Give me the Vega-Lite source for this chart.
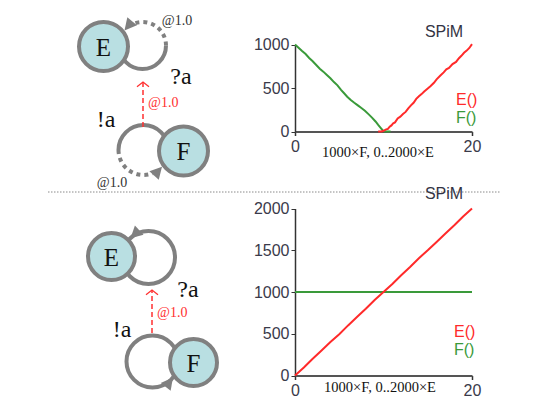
{
  "$schema": "https://vega.github.io/schema/vega-lite/v6.json",
  "padding": 0,
  "background": "white",
  "columns": 2,
  "spacing": {"column": 55, "row": 0},
  "bounds": "flush",
  "align": "each",
  "resolve": {"scale": {"color": "independent"}},
  "datasets": {
    "nodes": [
      {"panel": "top", "name": "E", "x": 103.5, "y": 46.5},
      {"panel": "top", "name": "F", "x": 183.5, "y": 151},
      {"panel": "bot", "name": "E", "x": 111.5, "y": 256.5},
      {"panel": "bot", "name": "F", "x": 193.5, "y": 362.5}
    ],
    "loops": [
      {"id": "topE", "x": 142.5, "y": 45.5},
      {"id": "topF", "x": 143.5, "y": 150},
      {"id": "botE", "x": 148.5, "y": 257.5},
      {"id": "botF", "x": 152.5, "y": 361.5}
    ],
    "arrows": [
      {"panel": "top", "x": 124.5, "y": 30.4, "dir": 130},
      {"panel": "top", "x": 162, "y": 166.7, "dir": 312},
      {"panel": "bot", "x": 130.5, "y": 238.3, "dir": 137},
      {"panel": "bot", "x": 173, "y": 377.5, "dir": 308}
    ],
    "signals": [
      {"panel": "top", "x": 143, "y": 127, "y2": 82},
      {"panel": "bot", "x": 152, "y": 333, "y2": 290}
    ],
    "labels": [
      {"panel": "top", "kind": "small", "text": "@1.0", "x": 177, "y": 21},
      {"panel": "top", "kind": "small", "text": "@1.0", "x": 112, "y": 183},
      {"panel": "top", "kind": "big", "text": "?a", "x": 181, "y": 77},
      {"panel": "top", "kind": "big", "text": "!a", "x": 106, "y": 120},
      {"panel": "top", "kind": "red", "text": "@1.0", "x": 148, "y": 103},
      {"panel": "bot", "kind": "big", "text": "?a", "x": 188, "y": 290},
      {"panel": "bot", "kind": "big", "text": "!a", "x": 122, "y": 330},
      {"panel": "bot", "kind": "red", "text": "@1.0", "x": 157, "y": 313}
    ],
    "sep": [{"x": 48, "x2": 500, "y": 192}],
    "heads": [
      {"chart": "top", "head": "SPiM", "t": 19, "v": 1052},
      {"chart": "bottom", "head": "SPiM", "t": 19, "v": 2078}
    ],
    "top": [
      {"s": "F()", "t": 0, "v": 1000}, {"s": "F()", "t": 0.4, "v": 962}, {"s": "F()", "t": 0.8, "v": 925},
      {"s": "F()", "t": 1.2, "v": 890}, {"s": "F()", "t": 1.6, "v": 845}, {"s": "F()", "t": 2.0, "v": 808},
      {"s": "F()", "t": 2.4, "v": 765}, {"s": "F()", "t": 2.8, "v": 722}, {"s": "F()", "t": 3.2, "v": 688},
      {"s": "F()", "t": 3.6, "v": 650}, {"s": "F()", "t": 4.0, "v": 612}, {"s": "F()", "t": 4.4, "v": 568},
      {"s": "F()", "t": 4.8, "v": 530}, {"s": "F()", "t": 5.2, "v": 478}, {"s": "F()", "t": 5.5, "v": 445},
      {"s": "F()", "t": 5.9, "v": 400}, {"s": "F()", "t": 6.3, "v": 362}, {"s": "F()", "t": 6.7, "v": 330},
      {"s": "F()", "t": 7.1, "v": 300}, {"s": "F()", "t": 7.5, "v": 270}, {"s": "F()", "t": 7.9, "v": 238},
      {"s": "F()", "t": 8.3, "v": 200}, {"s": "F()", "t": 8.7, "v": 160}, {"s": "F()", "t": 9.1, "v": 115},
      {"s": "F()", "t": 9.4, "v": 75}, {"s": "F()", "t": 9.7, "v": 40}, {"s": "F()", "t": 9.9, "v": 15},
      {"s": "F()", "t": 10.1, "v": 0}, {"s": "F()", "t": 10.8, "v": 0},
      {"s": "E()", "t": 9.4, "v": 0}, {"s": "E()", "t": 9.8, "v": 0}, {"s": "E()", "t": 10.0, "v": 8},
      {"s": "E()", "t": 10.3, "v": 25}, {"s": "E()", "t": 10.5, "v": 30}, {"s": "E()", "t": 10.7, "v": 55},
      {"s": "E()", "t": 10.9, "v": 70}, {"s": "E()", "t": 11.1, "v": 95}, {"s": "E()", "t": 11.3, "v": 105},
      {"s": "E()", "t": 11.6, "v": 150}, {"s": "E()", "t": 11.9, "v": 170}, {"s": "E()", "t": 12.2, "v": 200},
      {"s": "E()", "t": 12.5, "v": 225}, {"s": "E()", "t": 12.8, "v": 265}, {"s": "E()", "t": 13.1, "v": 300},
      {"s": "E()", "t": 13.4, "v": 330}, {"s": "E()", "t": 13.7, "v": 375}, {"s": "E()", "t": 14.0, "v": 405},
      {"s": "E()", "t": 14.3, "v": 430}, {"s": "E()", "t": 14.6, "v": 460}, {"s": "E()", "t": 15.0, "v": 495},
      {"s": "E()", "t": 15.3, "v": 520}, {"s": "E()", "t": 15.7, "v": 560}, {"s": "E()", "t": 16.0, "v": 600},
      {"s": "E()", "t": 16.4, "v": 640}, {"s": "E()", "t": 16.8, "v": 680}, {"s": "E()", "t": 17.1, "v": 715},
      {"s": "E()", "t": 17.4, "v": 730}, {"s": "E()", "t": 17.8, "v": 775}, {"s": "E()", "t": 18.2, "v": 800},
      {"s": "E()", "t": 18.5, "v": 840}, {"s": "E()", "t": 18.8, "v": 870}, {"s": "E()", "t": 19.1, "v": 905},
      {"s": "E()", "t": 19.4, "v": 930}, {"s": "E()", "t": 19.7, "v": 960}, {"s": "E()", "t": 20, "v": 1005}
    ],
    "bottom": [
      {"s": "F()", "t": 0, "v": 1000}, {"s": "F()", "t": 20, "v": 1000},
      {"s": "E()", "t": 0, "v": 0}, {"s": "E()", "t": 1, "v": 95}, {"s": "E()", "t": 2, "v": 200},
      {"s": "E()", "t": 3, "v": 300}, {"s": "E()", "t": 4, "v": 400}, {"s": "E()", "t": 5, "v": 495},
      {"s": "E()", "t": 6, "v": 600}, {"s": "E()", "t": 7, "v": 700}, {"s": "E()", "t": 8, "v": 800},
      {"s": "E()", "t": 9, "v": 905}, {"s": "E()", "t": 10, "v": 1000}, {"s": "E()", "t": 11, "v": 1095},
      {"s": "E()", "t": 12, "v": 1200}, {"s": "E()", "t": 13, "v": 1300}, {"s": "E()", "t": 14, "v": 1405},
      {"s": "E()", "t": 15, "v": 1500}, {"s": "E()", "t": 16, "v": 1600}, {"s": "E()", "t": 17, "v": 1700},
      {"s": "E()", "t": 18, "v": 1800}, {"s": "E()", "t": 19, "v": 1905}, {"s": "E()", "t": 20, "v": 2000}
    ]
  },
  "concat": [
    {
      "width": 240,
      "height": 176,
      "encoding": {
        "x": {"field": "x", "type": "quantitative", "scale": {"domain": [0, 240], "nice": false, "zero": false}, "axis": null},
        "y": {"field": "y", "type": "quantitative", "scale": {"domain": [0, 176], "nice": false, "zero": false, "reverse": true}, "axis": null}
      },
      "layer": [
        {"data": {"name": "loops"}, "transform": [{"filter": "datum.id === 'topE'"}],
         "mark": {"type": "point", "shape": "M 1 0 A 1 1 0 0 1 -1 0", "size": 2209, "filled": false, "stroke": "#808080", "strokeWidth": 4, "opacity": 1}},
        {"data": {"name": "loops"}, "transform": [{"filter": "datum.id === 'topE'"}],
         "mark": {"type": "point", "shape": "M 1 0 A 1 1 0 0 0 -0.375 -0.927", "size": 2209, "filled": false, "stroke": "#808080", "strokeWidth": 4, "strokeDash": [4, 4], "opacity": 1}},
        {"data": {"name": "loops"}, "transform": [{"filter": "datum.id === 'topF'"}],
         "mark": {"type": "point", "shape": "M -1 0 A 1 1 0 0 1 1 0", "size": 2500, "filled": false, "stroke": "#808080", "strokeWidth": 4, "opacity": 1}},
        {"data": {"name": "loops"}, "transform": [{"filter": "datum.id === 'topF'"}],
         "mark": {"type": "point", "shape": "M -1 0 A 1 1 0 0 0 0.375 0.927", "size": 2500, "filled": false, "stroke": "#808080", "strokeWidth": 4, "strokeDash": [4, 4], "opacity": 1}},
        {"data": {"name": "signals"}, "transform": [{"filter": "datum.panel === 'top'"}],
         "mark": {"type": "rule", "color": "#ff3030", "strokeWidth": 1.5, "strokeDash": [5, 3]},
         "encoding": {"y2": {"field": "y2"}}},
        {"data": {"name": "signals"}, "transform": [{"filter": "datum.panel === 'top'"}],
         "mark": {"type": "point", "shape": "M -1 0.8 L 0 0 L 1 0.8", "size": 144, "filled": false, "stroke": "#ff3030", "strokeWidth": 1.3, "opacity": 1},
         "encoding": {"y": {"field": "y2", "type": "quantitative"}}},
        {"data": {"name": "nodes"}, "transform": [{"filter": "datum.panel === 'top'"}],
         "mark": {"type": "point", "shape": "circle", "size": 2401, "filled": true, "fill": "#b9dfe2", "stroke": "#808080", "strokeWidth": 4, "opacity": 1}},
        {"data": {"name": "nodes"}, "transform": [{"filter": "datum.panel === 'top'"}],
         "mark": {"type": "text", "font": "Liberation Serif", "fontSize": 25, "color": "#111", "align": "center", "baseline": "middle", "dy": 1},
         "encoding": {"text": {"field": "name"}}},
        {"data": {"name": "arrows"}, "transform": [{"filter": "datum.panel === 'top'"}],
         "mark": {"type": "point", "shape": "M 0 0 L -1.7 -0.9 L -1.7 0.9 Z", "size": 196, "filled": true, "fill": "#808080", "strokeWidth": 0, "opacity": 1},
         "encoding": {"angle": {"field": "dir", "type": "quantitative", "scale": null}}},
        {"data": {"name": "labels"}, "transform": [{"filter": "datum.panel === 'top' && datum.kind === 'big'"}],
         "mark": {"type": "text", "font": "Liberation Serif", "fontSize": 24, "color": "#111", "align": "center", "baseline": "middle"},
         "encoding": {"text": {"field": "text"}}},
        {"data": {"name": "labels"}, "transform": [{"filter": "datum.panel === 'top' && datum.kind === 'small'"}],
         "mark": {"type": "text", "font": "Liberation Serif", "fontSize": 14, "color": "#333", "align": "center", "baseline": "middle"},
         "encoding": {"text": {"field": "text"}}},
        {"data": {"name": "labels"}, "transform": [{"filter": "datum.panel === 'top' && datum.kind === 'red'"}],
         "mark": {"type": "text", "font": "Liberation Serif", "fontSize": 14, "color": "#ff3030", "align": "left", "baseline": "middle"},
         "encoding": {"text": {"field": "text"}}}
      ]
    },
    {
      "width": 177,
      "height": 176,
      "data": {"name": "top"},
      "encoding": {
        "x": {"field": "t", "type": "quantitative", "scale": {"domain": [0, 20], "nice": false},
              "axis": {"values": [0, 20], "format": "d", "offset": -44.5, "title": "1000×F, 0..2000×E", "titleX": 82.5, "titleY": 20.5, "titleBaseline": "middle"}},
        "y": {"field": "v", "type": "quantitative", "scale": {"domain": [0, 1000], "nice": false, "range": [131.5, 44.5]},
              "axis": {"values": [0, 500, 1000], "format": "d", "title": null}},
        "color": {"field": "s", "type": "nominal", "scale": {"domain": ["E()", "F()"], "range": ["#ff2a2a", "#3a9a3a"]},
                  "legend": {"orient": "none", "legendX": 145, "legendY": 92, "title": null, "rowPadding": 1.5,
                             "encode": {"labels": {"update": {"fill": {"signal": "datum.value === 'E()' ? '#ff2a2a' : '#3a9a3a'"}}}}}}
      },
      "layer": [
        {"transform": [{"filter": "datum.s === 'F()'"}], "mark": {"type": "line", "strokeWidth": 2}},
        {"transform": [{"filter": "datum.s === 'E()'"}], "mark": {"type": "line", "strokeWidth": 2}},
        {"data": {"name": "heads"}, "transform": [{"filter": "datum.chart === 'top'"}],
         "mark": {"type": "text", "font": "Liberation Sans", "fontSize": 16, "fill": "#333344", "align": "right", "baseline": "bottom"},
         "encoding": {"text": {"field": "head", "type": "nominal"}, "color": {"value": "#333344"}}}
      ]
    },
    {
      "width": 240,
      "height": 232,
      "encoding": {
        "x": {"field": "x", "type": "quantitative", "scale": {"domain": [0, 240], "nice": false, "zero": false}, "axis": null},
        "y": {"field": "y", "type": "quantitative", "scale": {"domain": [176, 408], "nice": false, "zero": false, "reverse": true}, "axis": null}
      },
      "layer": [
        {"data": {"name": "sep"},
         "mark": {"type": "rule", "color": "#8a8a8a", "strokeWidth": 1, "strokeDash": [1.5, 1.5]},
         "encoding": {"x2": {"field": "x2"}}},
        {"data": {"name": "loops"}, "transform": [{"filter": "datum.id === 'botE'"}],
         "mark": {"type": "point", "shape": "circle", "size": 2809, "filled": false, "stroke": "#808080", "strokeWidth": 4, "opacity": 1}},
        {"data": {"name": "loops"}, "transform": [{"filter": "datum.id === 'botF'"}],
         "mark": {"type": "point", "shape": "circle", "size": 2704, "filled": false, "stroke": "#808080", "strokeWidth": 4, "opacity": 1}},
        {"data": {"name": "signals"}, "transform": [{"filter": "datum.panel === 'bot'"}],
         "mark": {"type": "rule", "color": "#ff3030", "strokeWidth": 1.5, "strokeDash": [5, 3]},
         "encoding": {"y2": {"field": "y2"}}},
        {"data": {"name": "signals"}, "transform": [{"filter": "datum.panel === 'bot'"}],
         "mark": {"type": "point", "shape": "M -1 0.8 L 0 0 L 1 0.8", "size": 144, "filled": false, "stroke": "#ff3030", "strokeWidth": 1.3, "opacity": 1},
         "encoding": {"y": {"field": "y2", "type": "quantitative"}}},
        {"data": {"name": "nodes"}, "transform": [{"filter": "datum.panel === 'bot'"}],
         "mark": {"type": "point", "shape": "circle", "size": 2209, "filled": true, "fill": "#b9dfe2", "stroke": "#808080", "strokeWidth": 4, "opacity": 1}},
        {"data": {"name": "nodes"}, "transform": [{"filter": "datum.panel === 'bot'"}],
         "mark": {"type": "text", "font": "Liberation Serif", "fontSize": 25, "color": "#111", "align": "center", "baseline": "middle", "dy": 1},
         "encoding": {"text": {"field": "name"}}},
        {"data": {"name": "arrows"}, "transform": [{"filter": "datum.panel === 'bot'"}],
         "mark": {"type": "point", "shape": "M 0 0 L -1.7 -0.9 L -1.7 0.9 Z", "size": 196, "filled": true, "fill": "#808080", "strokeWidth": 0, "opacity": 1},
         "encoding": {"angle": {"field": "dir", "type": "quantitative", "scale": null}}},
        {"data": {"name": "labels"}, "transform": [{"filter": "datum.panel === 'bot' && datum.kind === 'big'"}],
         "mark": {"type": "text", "font": "Liberation Serif", "fontSize": 24, "color": "#111", "align": "center", "baseline": "middle"},
         "encoding": {"text": {"field": "text"}}},
        {"data": {"name": "labels"}, "transform": [{"filter": "datum.panel === 'bot' && datum.kind === 'red'"}],
         "mark": {"type": "text", "font": "Liberation Serif", "fontSize": 14, "color": "#ff3030", "align": "left", "baseline": "middle"},
         "encoding": {"text": {"field": "text"}}}
      ]
    },
    {
      "width": 177,
      "height": 232,
      "data": {"name": "bottom"},
      "encoding": {
        "x": {"field": "t", "type": "quantitative", "scale": {"domain": [0, 20], "nice": false},
              "axis": {"values": [0, 20], "format": "d", "offset": -32.5, "title": "1000×F, 0..2000×E", "titleX": 84.5, "titleY": 12, "titleBaseline": "middle"}},
        "y": {"field": "v", "type": "quantitative", "scale": {"domain": [0, 2000], "nice": false, "range": [199.5, 32.5]},
              "axis": {"values": [0, 500, 1000, 1500, 2000], "format": "d", "title": null}},
        "color": {"field": "s", "type": "nominal", "scale": {"domain": ["E()", "F()"], "range": ["#ff2a2a", "#3a9a3a"]},
                  "legend": {"orient": "none", "legendX": 143, "legendY": 147.5, "title": null, "rowPadding": 2.5,
                             "encode": {"labels": {"update": {"fill": {"signal": "datum.value === 'E()' ? '#ff2a2a' : '#3a9a3a'"}}}}}}
      },
      "layer": [
        {"transform": [{"filter": "datum.s === 'F()'"}], "mark": {"type": "line", "strokeWidth": 2}},
        {"transform": [{"filter": "datum.s === 'E()'"}], "mark": {"type": "line", "strokeWidth": 2}},
        {"data": {"name": "heads"}, "transform": [{"filter": "datum.chart === 'bottom'"}],
         "mark": {"type": "text", "font": "Liberation Sans", "fontSize": 16, "fill": "#333344", "align": "right", "baseline": "bottom"},
         "encoding": {"text": {"field": "head", "type": "nominal"}, "color": {"value": "#333344"}}}
      ]
    }
  ],
  "config": {
    "view": {"stroke": null},
    "axis": {"grid": false, "labelFont": "Liberation Sans", "labelFontSize": 16, "labelColor": "#3a3a4a", "tickColor": "#333", "domainColor": "#333", "labelFlush": false,
             "titleFont": "Liberation Serif", "titleFontSize": 14.5, "titleFontWeight": "normal", "titleColor": "#111"},
    "axisX": {"domainWidth": 2, "domainColor": "#555", "tickSize": 4, "tickWidth": 1.5, "labelPadding": 3},
    "axisY": {"domainWidth": 1.5, "tickSize": 4, "labelPadding": 2},
    "legend": {"symbolSize": 0, "symbolOpacity": 0, "symbolStrokeWidth": 0, "labelFont": "Liberation Sans", "labelFontSize": 16, "labelOffset": 0, "padding": 0}
  }
}
